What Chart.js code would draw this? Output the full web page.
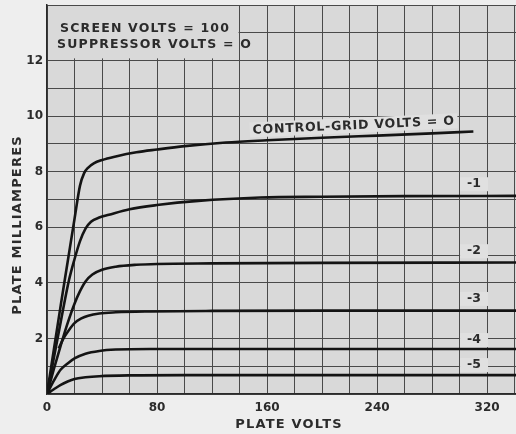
<!DOCTYPE html>
<html>
<head>
<meta charset="utf-8">
<script src="https://cdn.jsdelivr.net/npm/chart.js@4.4.1/dist/chart.umd.min.js"></script>
<style>
html, body { margin: 0; padding: 0; background: #eeeeee; }
</style>
</head>
<body>
<canvas id="chart" width="516" height="434"></canvas>
<script>
// plate volts / plate milliamperes
const g0Volts  = [0, 5, 10, 15, 20, 24, 27, 30, 34, 40, 50, 65, 80, 100, 130, 160, 200, 240, 280, 310];
const g0mA     = [0, 1.6, 3.2, 4.75, 6.3, 7.5, 7.95, 8.15, 8.3, 8.42, 8.55, 8.7, 8.8, 8.92, 9.05, 9.13, 9.22, 9.3, 9.38, 9.45];

const g1Volts  = [0, 5, 10, 16, 20, 24, 28, 32, 38, 45, 60, 80, 110, 155, 200, 260, 341];
const g1mA     = [0, 1.3, 2.6, 4.1, 4.85, 5.5, 5.95, 6.2, 6.35, 6.45, 6.65, 6.8, 6.95, 7.07, 7.1, 7.12, 7.13];

const g2Volts  = [0, 5, 10, 15, 20, 24, 28, 33, 40, 50, 65, 80, 120, 200, 341];
const g2mA     = [0, 0.9, 1.75, 2.55, 3.25, 3.7, 4.05, 4.3, 4.47, 4.58, 4.65, 4.68, 4.7, 4.72, 4.73];

const g3Volts  = [8.5, 12, 16, 20, 25, 30, 38, 50, 75, 120, 200, 341];
const g3mA     = [1.64, 2.0, 2.3, 2.55, 2.72, 2.82, 2.9, 2.94, 2.97, 2.99, 3.0, 3.0];

const g4Volts  = [0, 5, 10, 15, 20, 28, 38, 50, 75, 150, 341];
const g4mA     = [0, 0.48, 0.88, 1.1, 1.28, 1.45, 1.55, 1.6, 1.62, 1.62, 1.62];

const g5Volts  = [0, 5, 10, 15, 20, 28, 38, 60, 100, 200, 341];
const g5mA     = [0, 0.17, 0.33, 0.45, 0.54, 0.6, 0.64, 0.67, 0.68, 0.68, 0.68];

const gridLabels = ["CONTROL-GRID VOLTS = O", "-1", "-2", "-3", "-4", "-5"];
const noteLines  = ["SCREEN VOLTS = 100", "SUPPRESSOR VOLTS = O"];
const xTitle = "PLATE VOLTS";
const yTitle = "PLATE MILLIAMPERES";

const INK = "#2b2b2b";
const PAPER = "#d9d9d9";
Chart.defaults.font.family = "DejaVu Sans";

function pts(v, m) {
    return v.map((x, i) => ({ x: x, y: m[i] }));
}

const series = [
    pts(g0Volts, g0mA), pts(g1Volts, g1mA), pts(g2Volts, g2mA),
    pts(g3Volts, g3mA), pts(g4Volts, g4mA), pts(g5Volts, g5mA)
];

// paper background + plot area
const paper = {
    id: "paper",
    beforeDraw(chart) {
        const { ctx, chartArea: a } = chart;
        ctx.save();
        ctx.fillStyle = "#eeeeee";
        ctx.fillRect(0, 0, chart.width, chart.height);
        ctx.fillStyle = PAPER;
        ctx.fillRect(a.left, a.top, a.right - a.left, a.bottom - a.top);
        ctx.restore();
    }
};

// notes, curve labels, axis titles
const notes = {
    id: "notes",
    afterDatasetsDraw(chart) {
        const { ctx } = chart;
        const xs = chart.scales.x, ys = chart.scales.y;
        ctx.save();

        // box with the operating conditions, top left
        const bx0 = xs.getPixelForValue(0) + 1, bx1 = xs.getPixelForValue(140) - 1;
        const by0 = ys.getPixelForValue(14) + 1, by1 = ys.getPixelForValue(12.08);
        ctx.fillStyle = PAPER;
        ctx.fillRect(bx0, by0, bx1 - bx0, by1 - by0);
        ctx.fillStyle = INK;
        ctx.font = "bold 12.5px DejaVu Sans";
        ctx.letterSpacing = "1.2px";
        ctx.textAlign = "left";
        ctx.textBaseline = "middle";
        ctx.fillText(noteLines[0], 60, 29);
        ctx.fillText(noteLines[1], 57, 45);

        // control-grid 0 label, slightly tilted
        ctx.save();
        ctx.translate(xs.getPixelForValue(223), ys.getPixelForValue(9.65));
        ctx.rotate(-2.6 * Math.PI / 180);
        ctx.fillStyle = "#e0e0e0";
        ctx.fillRect(-104, -8, 208, 15);
        ctx.fillStyle = INK;
        ctx.textAlign = "center";
        ctx.letterSpacing = "0.8px";
        ctx.fillText(gridLabels[0], 0, 0);
        ctx.restore();

        // -1 ... -5
        const at = [7.55, 5.14, 3.42, 1.94, 1.04];
        ctx.textAlign = "center";
        ctx.letterSpacing = "0px";
        for (let i = 1; i < gridLabels.length; i++) {
            const px = xs.getPixelForValue(310.5), py = ys.getPixelForValue(at[i - 1]);
            ctx.fillStyle = "#e0e0e0";
            ctx.fillRect(px - 14, py - 7, 28, 14);
            ctx.fillStyle = INK;
            ctx.fillText(gridLabels[i], px, py);
        }

        // axis titles
        ctx.font = "bold 13px DejaVu Sans";
        ctx.letterSpacing = "1.2px";
        ctx.fillText(xTitle, 289, 425);
        ctx.translate(18, 225);
        ctx.rotate(-Math.PI / 2);
        ctx.fillText(yTitle, 0, 0);
        ctx.restore();
    }
};

new Chart(document.getElementById("chart"), {
    type: "line",
    data: {
        datasets: series.map(s => ({
            data: s,
            borderColor: "#141414",
            borderWidth: 2.6,
            pointRadius: 0,
            fill: false,
            cubicInterpolationMode: "monotone"
        }))
    },
    options: {
        responsive: false,
        animation: false,
        layout: { padding: { top: 5, right: 0, left: 0, bottom: 0 } },
        plugins: { legend: { display: false }, tooltip: { enabled: false } },
        scales: {
            x: {
                type: "linear",
                min: 0,
                max: 341,
                afterFit: s => { s.height = 40; s.paddingLeft = 0; s.paddingRight = 0; },
                grid: { color: "#4a4a4a", lineWidth: 1, drawTicks: false },
                border: { color: "#2a2a2a", width: 1.5 },
                ticks: {
                    stepSize: 20,
                    includeBounds: false,
                    autoSkip: false,
                    maxRotation: 0,
                    padding: 7,
                    color: INK,
                    font: { size: 12, weight: "bold" },
                    callback: v => (v % 80 === 0 ? String(v) : "")
                }
            },
            y: {
                min: 0,
                max: 14,
                afterFit: s => { s.width = 47; s.paddingTop = 0; s.paddingBottom = 0; },
                grid: { color: "#4a4a4a", lineWidth: 1, drawTicks: false },
                border: { color: "#2a2a2a", width: 1.5 },
                ticks: {
                    stepSize: 1,
                    autoSkip: false,
                    padding: 4,
                    color: INK,
                    font: { size: 12, weight: "bold" },
                    callback: v => (v % 2 === 0 && v > 0 && v < 14 ? String(v) : "")
                }
            }
        }
    },
    plugins: [paper, notes]
});
</script>
</body>
</html>
